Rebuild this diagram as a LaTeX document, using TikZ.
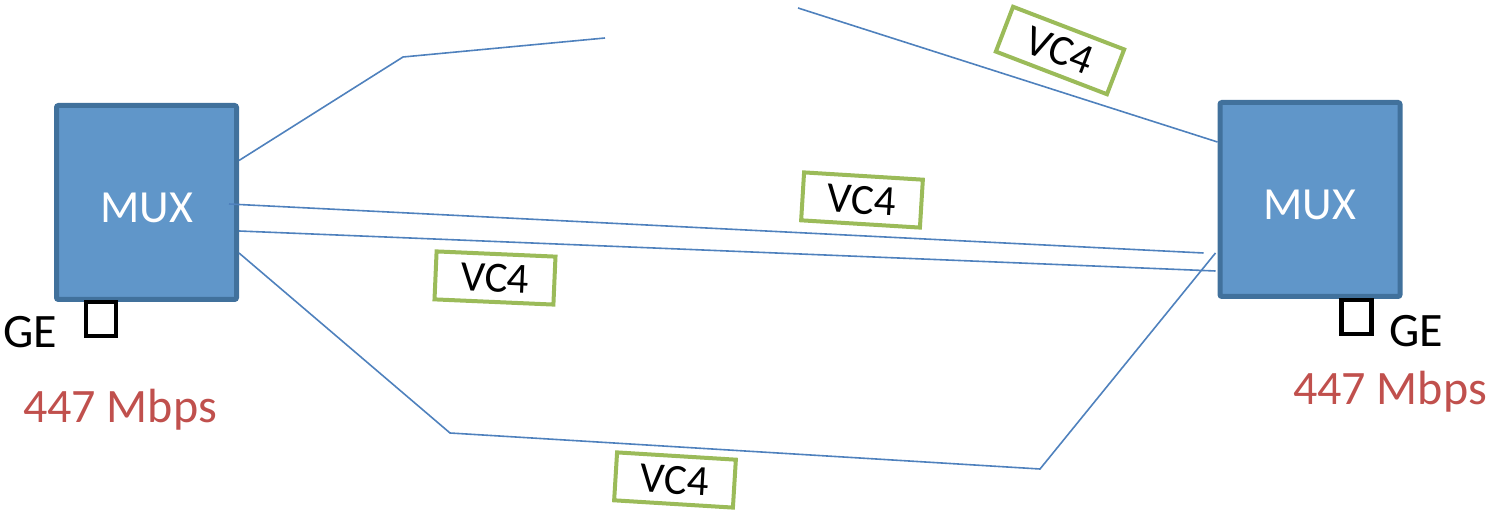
\documentclass[tikz,border=0pt]{standalone}
\usepackage{fontspec}
\setmainfont{Carlito}
\usepackage{tikz}
\definecolor{muxfill}{HTML}{6096C9}
\definecolor{muxline}{HTML}{41719C}
\definecolor{linkblue}{HTML}{4F81BD}
\definecolor{vcgreen}{HTML}{9BBB59}
\definecolor{ratered}{HTML}{C0504D}

\begin{document}
\begin{tikzpicture}[x=0.5pt,y=-0.5pt,
  mux/.style={draw=muxline,fill=muxfill,line width=2.5pt,rounded corners=1pt,minimum width=90pt,minimum height=97pt,text=white,font=\fontsize{23}{26}\selectfont,text height=20pt,text depth=0pt},
  vcbox/.style={draw=vcgreen,fill=white,line width=2pt,minimum width=59.5pt,minimum height=24pt,inner sep=0pt,font=\fontsize{21.5}{24}\selectfont},
  port/.style={draw=black,line width=2.25pt,minimum width=15pt,minimum height=17pt,inner sep=0pt},
  link/.style={draw=linkblue,line width=0.8pt},
  ge/.style={font=\fontsize{24}{28}\selectfont,anchor=base},
  rate/.style={text=ratered,font=\fontsize{24}{28}\selectfont,anchor=base}]
  \useasboundingbox (0,0) rectangle (1489,517);
  \node[mux] (muxL) at (146.5,202.5) {MUX};
  \node[mux] (muxR) at (1310,199.5) {MUX};
  \coordinate (bendA) at (403,57);
  \coordinate (cutA) at (605,38);
  \coordinate (cutB) at (798,8);
  \coordinate (bendB) at (450,433);
  \coordinate (bendC) at (1040,469);
  \draw[link] ([yshift=21pt]muxL.east) -- (bendA) -- (cutA);
  \draw[link] (cutB) -- ([yshift=28.75pt]muxR.west);
  \draw[link] ([xshift=-5pt,yshift=-0.75pt]muxL.east) -- ([xshift=-7pt,yshift=-26.75pt]muxR.west);
  \draw[link] ([yshift=-14.25pt]muxL.east) -- ([xshift=-1pt,yshift=-35.75pt]muxR.west);
  \draw[link] ([yshift=-25.25pt]muxL.east) -- (bendB) -- (bendC) -- ([xshift=-1pt,yshift=-26.75pt]muxR.west);
  \node[vcbox,rotate=-21] (vcTop) at (1060,50.5) {VC4};
  \node[vcbox,rotate=-3.5] (vcMid) at (862,200) {VC4};
  \node[vcbox,rotate=-2.5] (vcLeft) at (495,278) {VC4};
  \node[vcbox,rotate=-3.5] (vcLow) at (675,480) {VC4};
  \node[port] (geL) at (101,319) {};
  \node[port] (geR) at (1356.5,317) {};
  \node[ge] (geLtext) at (30,348) {GE};
  \node[ge] (geRtext) at (1416,347) {GE};
  \node[rate] (rateL) at (120,423) {447 Mbps};
  \node[rate] (rateR) at (1390,405) {447 Mbps};
\end{tikzpicture}
\end{document}
